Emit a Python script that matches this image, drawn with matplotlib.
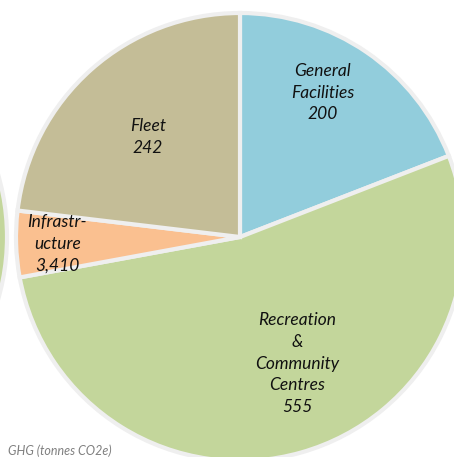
import matplotlib
matplotlib.use("Agg")
import matplotlib.pyplot as plt

# Data (clockwise from 12 o'clock)
categories = ["General\nFacilities", "Recreation\n&\nCommunity\nCentres", "Infrastr-\nucture", "Fleet"]
value_labels = ["200", "555", "3,410", "242"]
sizes = [200, 555, 50, 242]  # slice sizes as drawn
colors = ["#92CDDC", "#C3D69B", "#FAC090", "#C4BD97"]
label_xy = [(0.37, 0.645), (0.255, -0.565), (-0.815, -0.03), (-0.41, 0.445)]

W, H = 454, 457
fig = plt.figure(figsize=(W / 100, H / 100), dpi=100)

# main pie, centre at (240, 237) px from top-left, radius 224 px
cx, cy, r = 240, H - 237, 224
ax = fig.add_axes([(cx - r) / W, (cy - r) / H, 2 * r / W, 2 * r / H])
ax.pie(sizes, colors=colors, startangle=90, counterclock=False, radius=1,
       wedgeprops=dict(edgecolor="#EFEFEF", linewidth=3))
ax.set_xlim(-1, 1)
ax.set_ylim(-1, 1)
ax.set_aspect("equal")

for cat, val, (x, y) in zip(categories, value_labels, label_xy):
    ax.text(x, y, cat + "\n" + val, ha="center", va="center", fontsize=12.5,
            style="italic", family="Lato", linespacing=1.45, color="#111111")

# neighbouring chart, cut off at the left edge
cx2 = -217
ax2 = fig.add_axes([(cx2 - r) / W, (cy - r) / H, 2 * r / W, 2 * r / H])
ax2.pie([1], colors=["#C3D69B"], radius=1,
        wedgeprops=dict(edgecolor="#EFEFEF", linewidth=3))
ax2.set_xlim(-1, 1)
ax2.set_ylim(-1, 1)
ax2.set_aspect("equal")

fig.text(8 / W, 1 - 451 / H, "GHG (tonnes CO2e)", fontsize=9, style="italic",
         family="Lato", color="#7F7F7F", va="center")

fig.savefig("out.png", dpi=100)
